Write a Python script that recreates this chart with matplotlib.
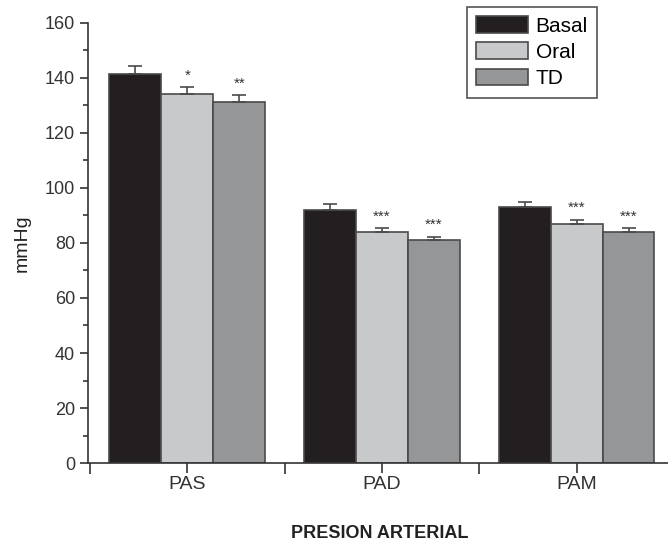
import numpy as np
from matplotlib import pyplot as plt
from matplotlib.ticker import MultipleLocator, FixedLocator

plt.rcParams['font.family'] = ['Liberation Sans', 'DejaVu Sans']

categories = ['PAS', 'PAD', 'PAM']
groups = ['Basal', 'Oral', 'TD']
basal = [141.3, 92.0, 93.0]
oral = [134.2, 84.0, 87.0]
td = [131.3, 81.0, 84.0]
basal_err = [2.8, 2.0, 2.0]
oral_err = [2.3, 1.5, 1.5]
td_err = [2.3, 1.3, 1.4]
oral_sig = ['*', '***', '***']
td_sig = ['**', '***', '***']

colors = ['#231f20', '#c8c9cb', '#959698']
edge = '#4a4a4a'

fig = plt.figure(figsize=(6.68, 5.41), dpi=100)
ax = fig.add_axes([0.132, 0.144, 0.868, 0.814])

x = np.arange(len(categories))
w = 0.267
series = [basal, oral, td]
errs = [basal_err, oral_err, td_err]
for i in range(3):
    ax.bar(x + (i - 1) * w, series[i], w, color=colors[i], edgecolor=edge,
           linewidth=1.2, label=groups[i],
           yerr=[np.zeros(3), errs[i]], error_kw=dict(ecolor=edge, elinewidth=1.2,
                                                      capsize=5, capthick=1.2))

for j in range(3):
    ax.text(x[j], oral[j] + oral_err[j] + 1.6, oral_sig[j], ha='center',
            va='bottom', fontsize=11, color='#333333')
    ax.text(x[j] + w, td[j] + td_err[j] + 1.6, td_sig[j], ha='center',
            va='bottom', fontsize=11, color='#333333')

ax.set_xlim(-0.51, 2.47)
ax.set_ylim(0, 160)
ax.spines['top'].set_visible(False)
ax.spines['right'].set_visible(False)
ax.spines['left'].set_color('#333333')
ax.spines['bottom'].set_color('#333333')
ax.spines['left'].set_linewidth(1.2)
ax.spines['bottom'].set_linewidth(1.2)

ax.yaxis.set_major_locator(MultipleLocator(20))
ax.yaxis.set_minor_locator(MultipleLocator(10))
ax.set_xticks(x)
ax.set_xticklabels(categories, fontsize=14)
ax.xaxis.set_minor_locator(FixedLocator([-0.5, 0.5, 1.5]))
ax.tick_params(axis='y', which='major', direction='out', length=6, width=1.2,
               labelsize=13, colors='#333333')
ax.tick_params(axis='y', which='minor', direction='out', length=3.5, width=1.2,
               colors='#333333')
ax.tick_params(axis='x', which='major', direction='out', length=7, width=1.2,
               colors='#333333', pad=2)
ax.tick_params(axis='x', which='minor', direction='out', length=8, width=1.2,
               colors='#333333')

ax.set_ylabel('mmHg', fontsize=14, color='#222222', labelpad=10)
ax.set_xlabel('PRESION ARTERIAL', fontsize=13, fontweight='bold',
              color='#222222')
ax.xaxis.set_label_coords(0.503, -0.14)

leg = ax.legend(loc='upper right', bbox_to_anchor=(0.878, 1.036), fontsize=15,
                fancybox=False, edgecolor='#555555', handlelength=2.5,
                handleheight=0.85, handletextpad=0.35, borderpad=0.45,
                labelspacing=0.32, borderaxespad=0, framealpha=1)
leg.get_frame().set_linewidth(1.2)

plt.savefig('out.png', dpi=100)
